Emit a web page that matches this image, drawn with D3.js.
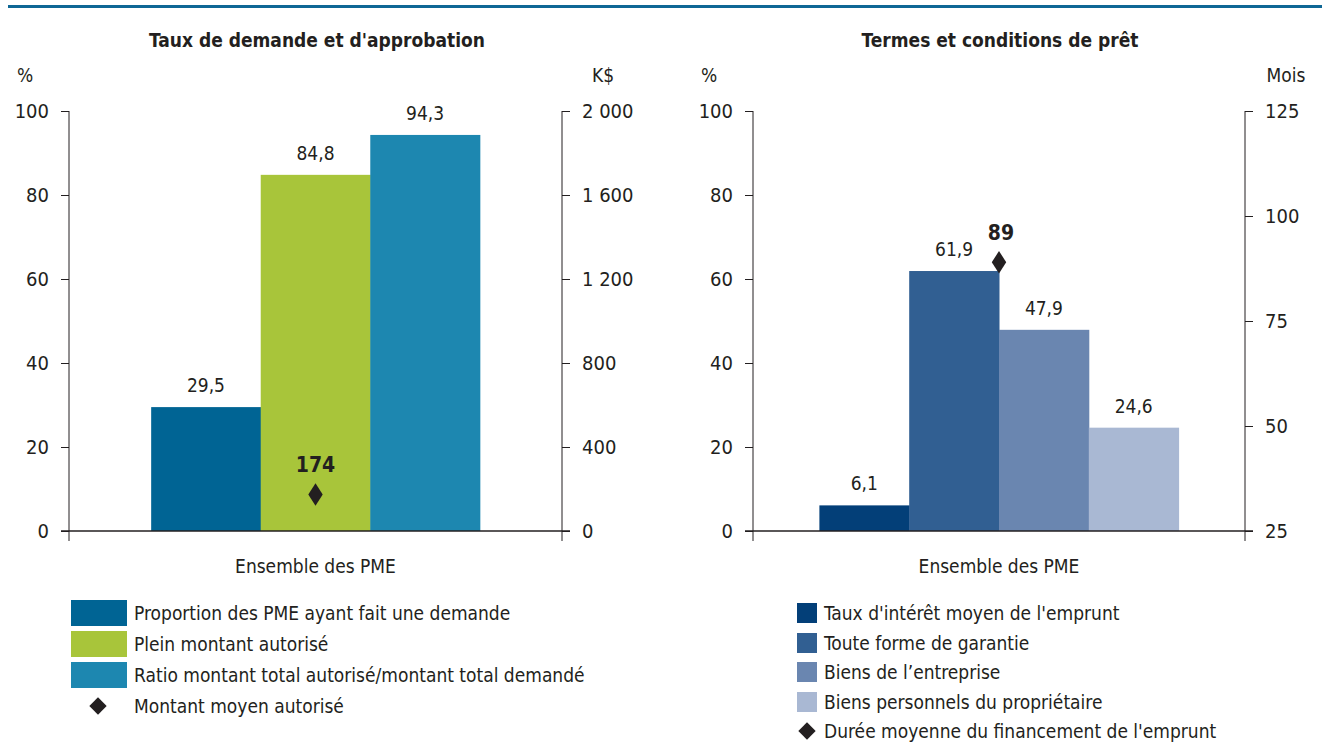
<!DOCTYPE html>
<html>
<head>
<meta charset="utf-8">
<script src="https://d3js.org/d3.v7.min.js"></script>
<style>
  body { margin: 0; background: #fff; }
  svg text { font-family: "Liberation Sans Narrow", "DejaVu Sans Condensed", "Roboto Condensed", sans-serif; fill: #231f20; }
</style>
</head>
<body>
<svg id="chart" width="1322" height="744"></svg>
<script>
    // left panel data
    var groups = ["Ensemble des PME"];
    var leftSeries = ["Proportion des PME ayant fait une demande", "Plein montant autorisé", "Ratio montant total autorisé/montant total demandé"];
    var leftValues = [29.5, 84.8, 94.3];
    var leftColors = ["#006494", "#a8c53a", "#1d87b0"];
    var leftDiamondLabel = "Montant moyen autorisé";
    var leftDiamond = 174;
    var leftTicks = [0, 20, 40, 60, 80, 100];
    var leftRightTicks = [0, 400, 800, 1200, 1600, 2000];

    // right panel data
    var rightSeries = ["Taux d'intérêt moyen de l'emprunt", "Toute forme de garantie", "Biens de l’entreprise", "Biens personnels du propriétaire"];
    var rightValues = [6.1, 61.9, 47.9, 24.6];
    var rightColors = ["#033f78", "#315f92", "#6a86b0", "#a9b8d3"];
    var rightDiamondLabel = "Durée moyenne du financement de l'emprunt";
    var rightDiamond = 89;
    var rightTicks = [0, 20, 40, 60, 80, 100];
    var rightRightTicks = [25, 50, 75, 100, 125];

    var svg = d3.select("#chart");
    var fmtComma = function (v) { return String(v).replace(".", ","); };
    var fmtThousands = function (v) { return d3.format(",")(v).replace(/,/g, " "); };
    var fs = "19px";

    // top rule
    svg.append("rect").attr("x", 8).attr("y", 5).attr("width", 1314).attr("height", 3).attr("fill", "#0e6795");

    function drawPanel(opt) {
        var g = svg.append("g");
        var yL = d3.scaleLinear().domain([0, 100]).range([531, 111]);
        var yR = d3.scaleLinear().domain(opt.rDomain).range([531, 111]);
        var x0 = d3.scaleBand().domain(groups).range([opt.xl, opt.xr]).padding(opt.pad);
        var x1 = d3.scaleBand().domain(opt.series).range([0, x0.bandwidth()]);

        g.append("text").attr("x", opt.titleX).attr("y", 47).attr("text-anchor", "middle")
            .style("font-weight", "bold").style("font-size", "19px").text(opt.title);
        g.append("text").attr("x", opt.xl - 44).attr("y", 82).attr("text-anchor", "middle")
            .style("font-size", fs).text("%");
        g.append("text").attr("x", opt.xr + 41).attr("y", 82).attr("text-anchor", "middle")
            .style("font-size", fs).text(opt.rUnit);

        // bars
        opt.series.forEach(function (s, i) {
            var v = opt.values[i];
            var bx = x0(groups[0]) + x1(s);
            g.append("rect").attr("x", bx).attr("y", yL(v))
                .attr("width", x1.bandwidth() + 0.5).attr("height", yL(0) - yL(v))
                .attr("fill", opt.colors[i]);
            g.append("text").attr("x", bx + x1.bandwidth() / 2).attr("y", yL(v) - 15)
                .attr("text-anchor", "middle").style("font-size", fs).text(fmtComma(v));
        });

        // axes
        var axL = d3.axisLeft(yL).tickValues(opt.lTicks).tickSize(8).tickPadding(12).tickSizeOuter(0);
        var gl = g.append("g").attr("transform", "translate(" + opt.xl + ",0)").call(axL);
        var axR = d3.axisRight(yR).tickValues(opt.rTicks).tickSize(8).tickPadding(12).tickSizeOuter(0).tickFormat(opt.rFormat);
        var gr = g.append("g").attr("transform", "translate(" + opt.xr + ",0)").call(axR);
        [gl, gr].forEach(function (a) {
            a.select(".domain").remove();
            a.selectAll("line").attr("stroke", "#231f20");
            a.selectAll("text").style("font-size", "20px").attr("fill", "#231f20")
                .style("font-family", "'Liberation Sans Narrow', 'DejaVu Sans Condensed', sans-serif");
        });
        g.append("line").attr("x1", opt.xl).attr("x2", opt.xl).attr("y1", 111).attr("y2", 541).attr("stroke", "#231f20");
        g.append("line").attr("x1", opt.xr).attr("x2", opt.xr).attr("y1", 111).attr("y2", 541).attr("stroke", "#231f20");
        g.append("line").attr("x1", opt.xl - 8).attr("x2", opt.xr + 8).attr("y1", yL(0)).attr("y2", yL(0))
            .attr("stroke", "#231f20").attr("stroke-width", 1.5);

        g.append("text").attr("x", x0(groups[0]) + x0.bandwidth() / 2).attr("y", 573)
            .attr("text-anchor", "middle").style("font-size", fs).text(groups[0]);

        // diamond marker
        var dx = x0(groups[0]) + x0.bandwidth() / 2;
        var dy = yR(opt.diamond);
        g.append("path").attr("d", d3.symbol(d3.symbolDiamond, 200)()).attr("transform", "translate(" + dx + "," + dy + ") scale(0.95,0.85)")
            .attr("fill", "#231f20");
        g.append("text").attr("x", dx + opt.dLabelDx).attr("y", dy - 22).attr("text-anchor", "middle")
            .style("font-size", "21px").style("font-weight", "bold").text(opt.diamond);

        // legend
        var lg = g.append("g");
        opt.series.forEach(function (s, i) {
            var ry = opt.legY[i];
            lg.append("rect").attr("x", opt.swX).attr("y", ry - opt.swH / 2).attr("width", opt.swW).attr("height", opt.swH)
                .attr("fill", opt.colors[i]);
            lg.append("text").attr("x", opt.legTextX).attr("y", ry).attr("dy", "0.35em")
                .style("font-size", fs).text(s);
        });
        var ly = opt.legY[opt.series.length];
        lg.append("path").attr("d", d3.symbol(d3.symbolSquare, 150)())
            .attr("transform", "translate(" + opt.diaX + "," + ly + ") rotate(45)").attr("fill", "#231f20");
        lg.append("text").attr("x", opt.legTextX).attr("y", ly).attr("dy", "0.35em")
            .style("font-size", fs).text(opt.diamondLabel);
    }

    drawPanel({
        title: "Taux de demande et d'approbation", titleX: 317,
        xl: 69, xr: 562, pad: 0.2,
        series: leftSeries, values: leftValues, colors: leftColors,
        rDomain: [0, 2000], rUnit: "K$", lTicks: leftTicks, rTicks: leftRightTicks, rFormat: fmtThousands,
        diamond: leftDiamond, diamondLabel: leftDiamondLabel, dLabelDx: 0,
        legY: [613, 644, 675, 706], swX: 71, swW: 56, swH: 26, legTextX: 134, diaX: 98
    });

    drawPanel({
        title: "Termes et conditions de prêt", titleX: 1000,
        xl: 753, xr: 1245, pad: 0.156,
        series: rightSeries, values: rightValues, colors: rightColors,
        rDomain: [25, 125], rUnit: "Mois", lTicks: rightTicks, rTicks: rightRightTicks, rFormat: d3.format("d"),
        diamond: rightDiamond, diamondLabel: rightDiamondLabel, dLabelDx: 2,
        legY: [613, 643, 672, 702, 731], swX: 797, swW: 20, swH: 20, legTextX: 824, diaX: 807
    });
</script>
</body>
</html>
